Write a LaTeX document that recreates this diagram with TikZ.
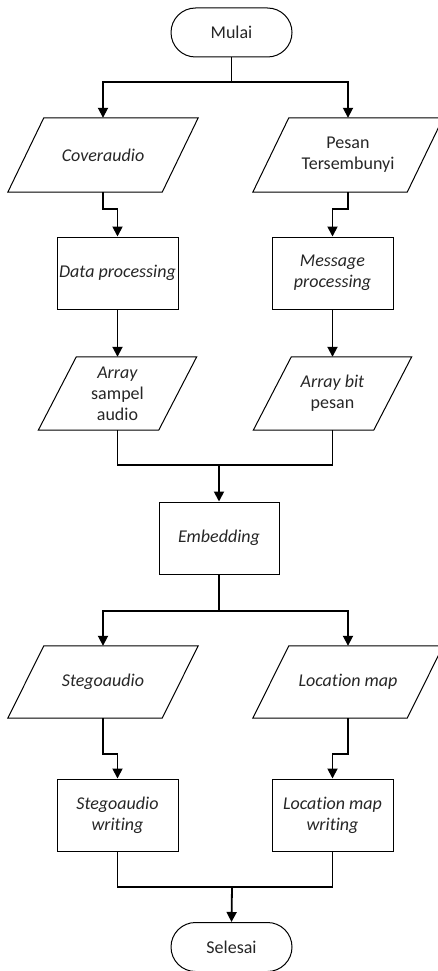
\documentclass[tikz,border=0pt]{standalone}
\usepackage{fontspec}
\setmainfont{Carlito}[Ligatures=CommonOff]
\usetikzlibrary{arrows.meta,calc}
\tikzset{
  base/.style={font=\fontsize{18}{21}\selectfont, align=center, inner sep=0pt, text=black!85},
  term/.style={base, draw, line width=1pt, minimum width=121pt, minimum height=49pt, rounded corners=24.5pt},
  procbox/.style={base, draw, line width=1pt, minimum width=121pt, minimum height=72pt},
  iobox/.style={base, minimum width=154pt, minimum height=74pt},
  iosmall/.style={base, minimum width=120pt, minimum height=73pt},
  conn/.style={line width=1.8pt},
  arr/.style={conn, -{Triangle[length=10pt,width=10pt]}},
  pgram/.style={line width=1pt}
}
\newcommand{\mypgram}[2]{%
  \draw[pgram] ([xshift=-#2]#1.south west) -- ([xshift=-#2]#1.south east) -- ([xshift=#2]#1.north east) -- ([xshift=#2]#1.north west) -- cycle;}
\begin{document}
\begin{tikzpicture}[x=1pt,y=1pt]
\useasboundingbox (0,0) rectangle (438,-971);
% nodes
\node[term] (mulai) at (231.5,-32.5) {Mulai};
\node[iobox] (cov) at (103,-155) {\textit{Coveraudio}};
\node[iobox] (pes) at (348,-155) {Pesan\\Tersembunyi};
\node[procbox] (dp) at (117.5,-273) {\textit{Data processing}};
\node[procbox] (mp) at (332.5,-273) {\textit{Message}\\\textit{processing}};
\node[iosmall] (asa) at (117.5,-393.5) {\textit{Array}\\sampel\\audio};
\node[iosmall] (abp) at (332.5,-393.5) {\textit{Array bit}\\pesan};
\node[procbox, minimum width=120pt] (emb) at (219,-538) {\textit{Embedding}};
\node[iobox, minimum height=72pt] (sa) at (103,-682) {\textit{Stegoaudio}};
\node[iobox, minimum height=72pt] (lm) at (348,-682) {\textit{Location map}};
\node[procbox] (saw) at (117.5,-815) {\textit{Stegoaudio}\\\textit{writing}};
\node[procbox] (lmw) at (332.5,-815) {\textit{Location map}\\\textit{writing}};
\node[term] (sel) at (231.5,-947) {Selesai};
% parallelograms
\mypgram{cov}{18pt}
\mypgram{pes}{18pt}
\mypgram{asa}{19pt}
\mypgram{abp}{19pt}
\mypgram{sa}{18pt}
\mypgram{lm}{18pt}
% junction points
\coordinate (s1) at (231.5,-82);
\coordinate (m1) at (219,-465);
\coordinate (s2) at (219,-611);
\coordinate (m2) at (232,-887);
% connectors
\draw[conn] (mulai.south) -- (s1);
\draw[arr] (s1) -| (cov.north);
\draw[arr] (s1) -| (pes.north);
\draw[arr] (cov.south) -- ++(0,-17) -| (dp.north);
\draw[arr] (pes.south) -- ++(0,-17) -| (mp.north);
\draw[arr] (dp.south) -- (asa.north);
\draw[arr] (mp.south) -- (abp.north);
\draw[conn] (asa.south) |- (m1) -| (abp.south);
\draw[arr] (m1) -- (emb.north);
\draw[conn] (emb.south) -- (s2);
\draw[arr] (s2) -| (sa.north);
\draw[arr] (s2) -| (lm.north);
\draw[arr] (sa.south) -- ++(0,-36) -| (saw.north);
\draw[arr] (lm.south) -- ++(0,-36) -| (lmw.north);
\draw[conn] (saw.south) |- (m2) -| (lmw.south);
\draw[arr] (m2) -- (sel.north);
\end{tikzpicture}
\end{document}
